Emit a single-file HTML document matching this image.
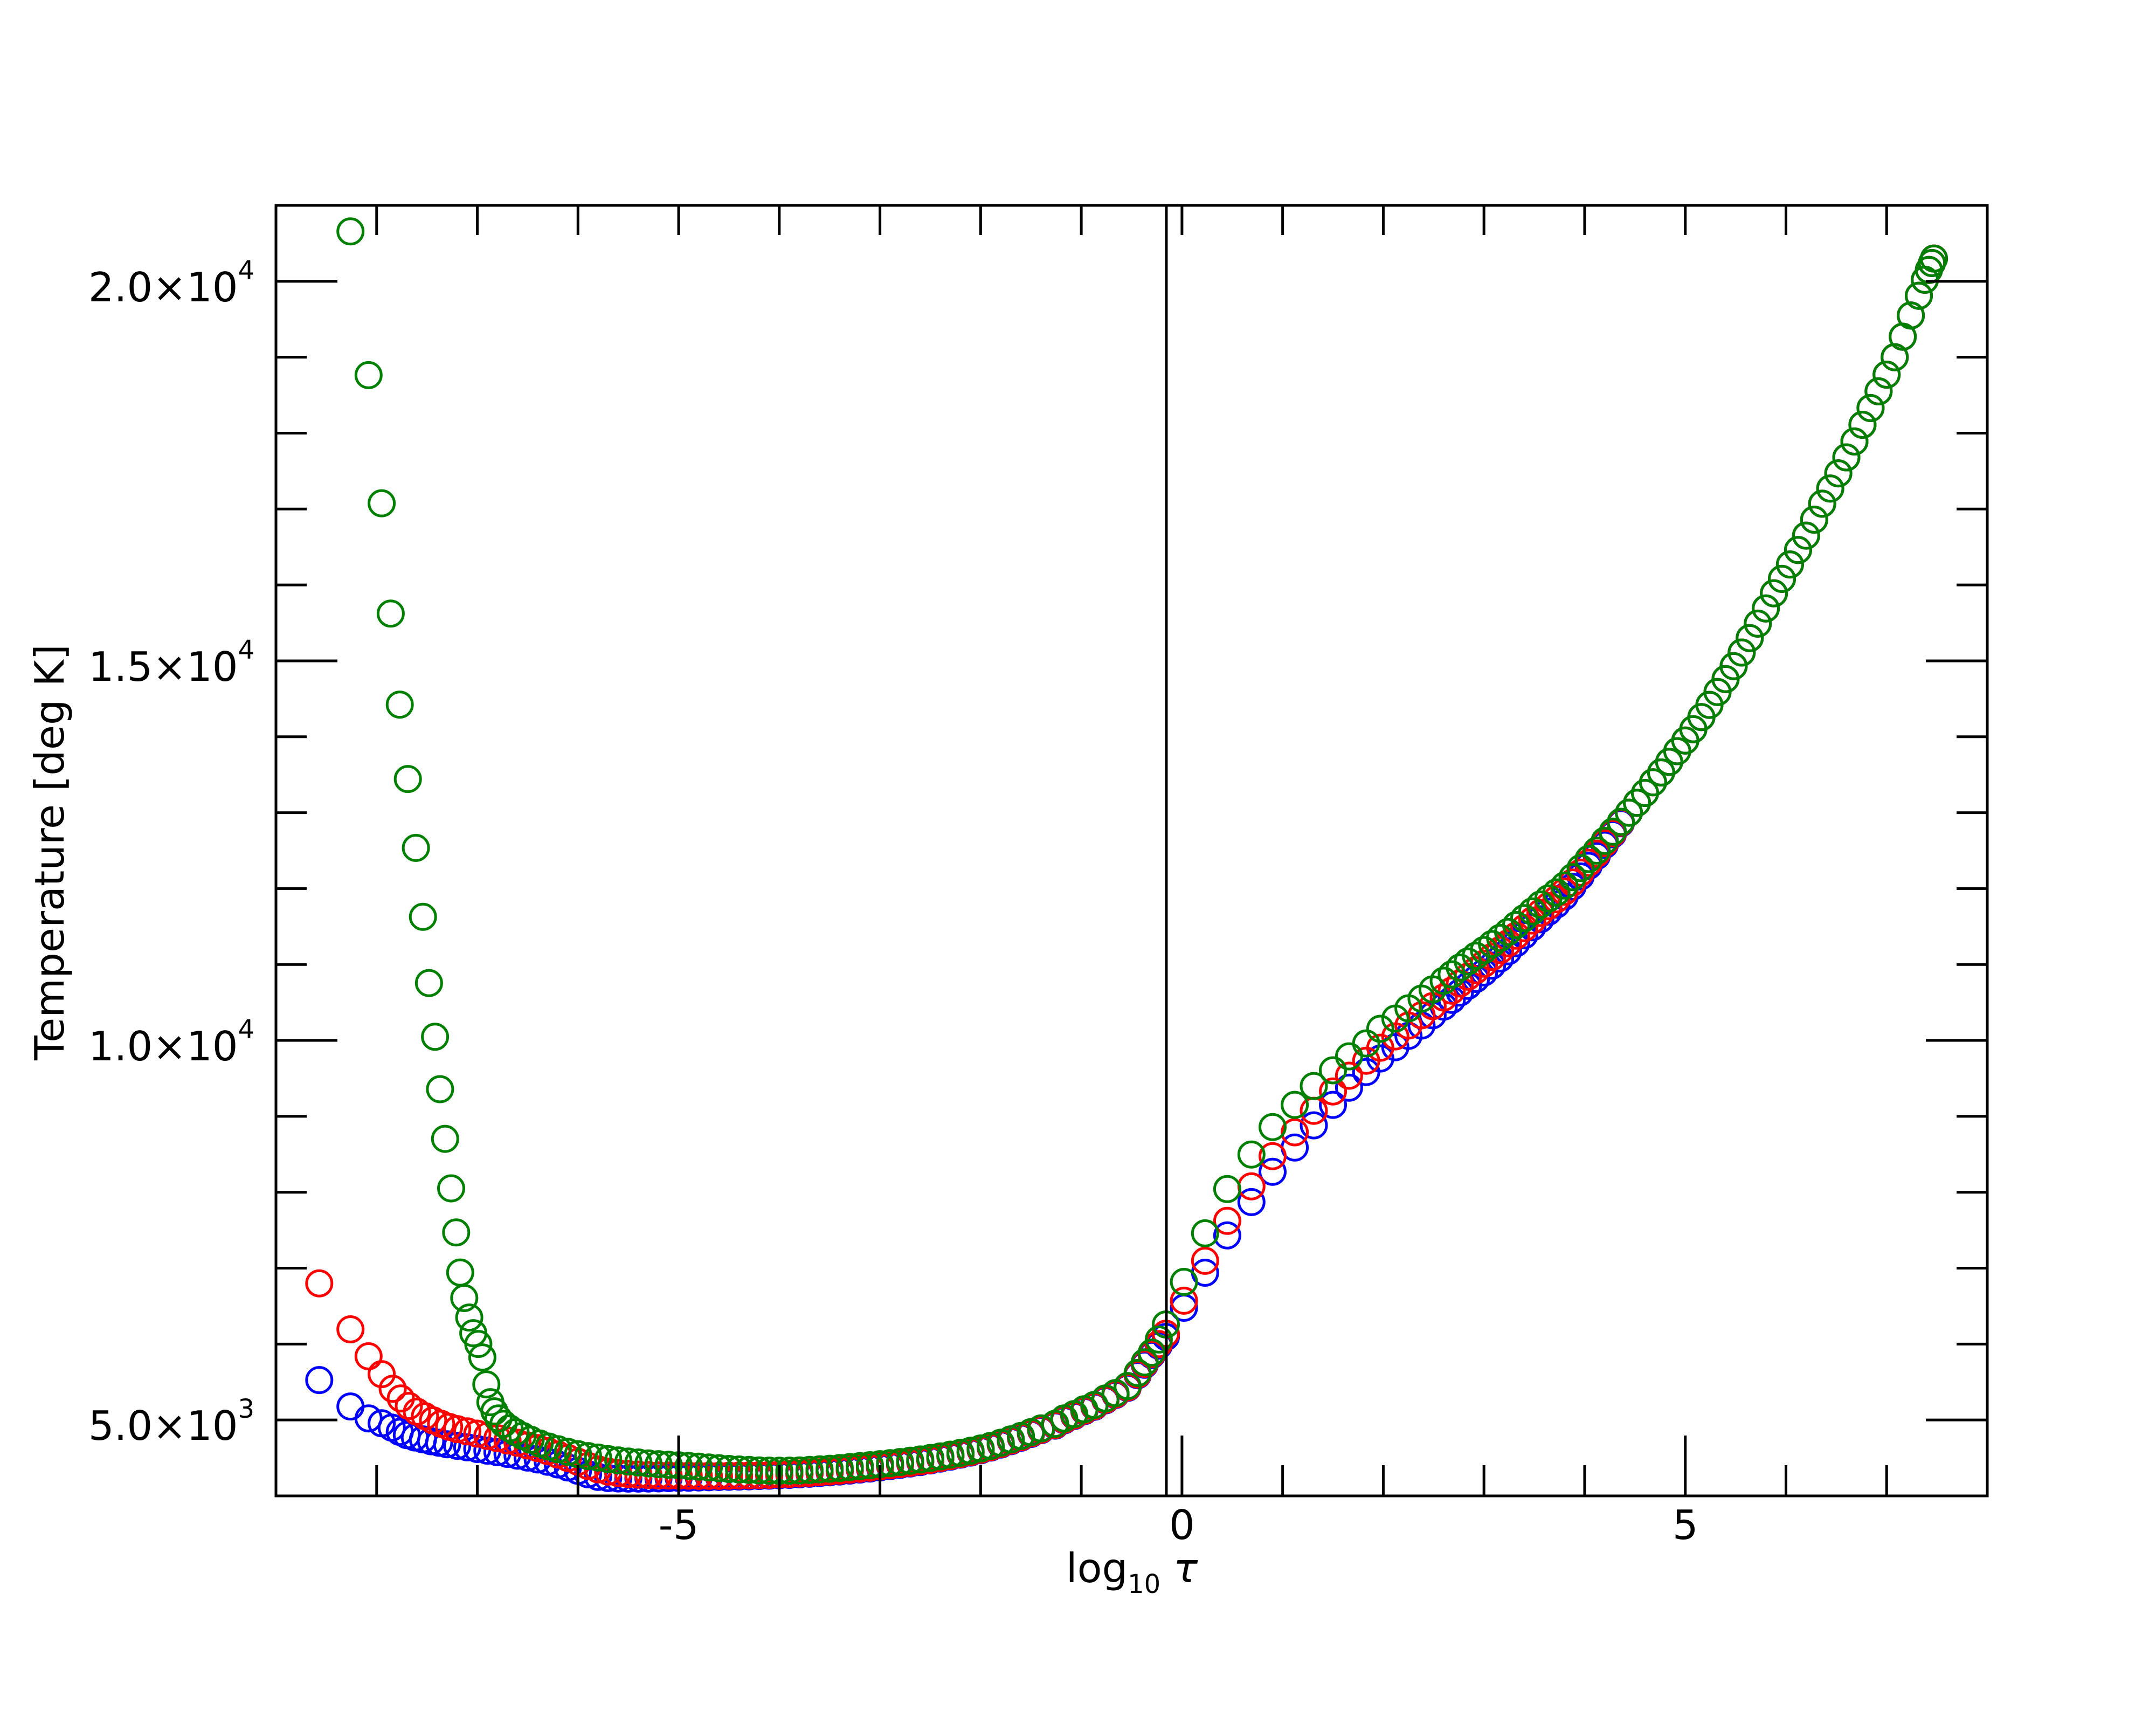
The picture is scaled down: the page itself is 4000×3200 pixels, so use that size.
<!DOCTYPE html>
<html>
<head>
<meta charset="utf-8">
<style>
html,body{margin:0;padding:0;background:#fff;}
svg{display:block;}
text{font-family:"DejaVu Sans","Liberation Sans",sans-serif;fill:#000;}
</style>
</head>
<body>
<svg id="chart" width="4000" height="3200" viewBox="0 0 4000 3200" xmlns="http://www.w3.org/2000/svg">
  <rect x="0" y="0" width="4000" height="3200" fill="#fff"/>
  <g id="marks"></g>
  <g id="axes"></g>
  <text transform="translate(118,1581) rotate(-90)" text-anchor="middle" font-size="75">Temperature [deg K]</text>
  <text x="2100" y="2935" text-anchor="middle" font-size="75">log<tspan font-size="48" dy="20">10</tspan><tspan dy="-20"> </tspan><tspan font-style="italic">τ</tspan></text>
</svg>
<script>
// ---- axis domain ----
const XMIN = -9, XMAX = 8, YMIN = 4000, YMAX = 21000;
const xTickValues = [-8,-7,-6,-5,-4,-3,-2,-1,0,1,2,3,4,5,6,7];
const xMajorTicks = [-5,0,5];
const xTickLabels = ["-5","0","5"];
const yTickValues = [5000,6000,7000,8000,9000,10000,11000,12000,13000,14000,15000,16000,17000,18000,19000,20000];
const yMajorTicks = [5000,10000,15000,20000];
const yTickMantissa = ["5.0","1.0","1.5","2.0"];
const yTickExponent = ["3","4","4","4"];
const refLineTau = [-0.155];

// ---- blue series ----
const tauBlue = [-8.57,-8.26,-8.08,-7.95,-7.85,-7.77,-7.70,-7.62,-7.54,-7.46,-7.38,-7.3,
-7.2,-7.1,-7.0,-6.9,-6.8,-6.7,-6.6,-6.5,-6.4,-6.3,-6.2,-6.1,-6.0,-5.9,-5.8,-5.7,-5.6,-5.5,
-5.4,-5.3,-5.2,-5.1,-5.0,-4.9,-4.8,-4.7,-4.6,-4.5,-4.4,-4.3,-4.2,-4.1,-4.0,-3.9,-3.8,-3.7,-3.6,-3.5,
-3.4,-3.3,-3.2,-3.1,-3.0,-2.9,-2.8,-2.7,-2.6,-2.5,-2.4,-2.3,-2.2,-2.1,-2.0,-1.9,-1.8,-1.7,-1.6,-1.5,-1.4,
-1.26,-1.17,-1.07,-0.97,-0.87,-0.76,-0.66,-0.54,-0.44,-0.37,-0.30,-0.23,-0.16,
0.02,0.23,0.45,0.69,0.90,1.12,1.31,1.50,1.66,1.83,1.97,2.12,2.25,2.38,2.49,2.60,
2.68,2.76,2.84,2.92,3.00,3.08,3.16,3.24,3.32,3.40,3.48,3.56,3.64,3.72,3.80,3.88,3.96,4.04,4.12,4.20,4.28,4.36,
4.44,4.52,4.60,4.68,4.76,4.84,4.92,5.00,5.08,5.16,5.24,5.32,5.40,5.48,5.56,5.64,5.72,5.80,5.88,5.96,
6.04,6.12,6.20,6.28,6.36,6.44,6.52,6.60,6.68,6.76,6.84,6.92,7.00,7.08,7.16,7.24,7.32,7.38,7.42,7.45,7.47];
const tempBlue = [5526,5178,5021,4957,4900,4843,4800,4770,4745,4720,4700,4680,
4660,4640,4618,4596,4575,4553,4530,4505,4480,4450,4415,4375,4330,4285,4250,4235,4230,4228,
4228,4229,4231,4234,4237,4240,4243,4246,4249,4252,4255,4258,4262,4266,4271,4277,4284,4292,4301,4311,
4322,4334,4347,4361,4376,4392,4409,4427,4446,4467,4492,4517,4543,4571,4601,4636,4676,4721,4766,4816,4866,
4926,4996,5053,5117,5174,5259,5330,5423,5590,5728,5855,5980,6094,
6478,6940,7431,7871,8269,8589,8881,9151,9378,9584,9762,9911,10060,10196,10331,10445,
10535,10630,10720,10810,10895,10985,11080,11175,11280,11385,11490,11595,11695,11790,11895,12025,12160,12300,12430,12575,12715,12860,
13000,13130,13260,13400,13530,13670,13810,13950,14100,14260,14420,14590,14760,14930,15110,15300,15490,15690,15890,16080,
16270,16460,16650,16860,17070,17270,17470,17680,17890,18110,18330,18550,18770,19000,19270,19550,19810,20020,20150,20240,20300];

// ---- red series ----
const tauRed = [-8.57,-8.26,-8.08,-7.95,-7.84,-7.76,-7.68,-7.60,-7.52,-7.44,-7.36,-7.28,
-7.2,-7.1,-7.0,-6.9,-6.8,-6.7,-6.6,-6.5,-6.4,-6.3,-6.2,-6.1,-6.0,-5.9,-5.8,-5.7,-5.6,-5.5,
-5.4,-5.3,-5.2,-5.1,-5.0,-4.9,-4.8,-4.7,-4.6,-4.5,-4.4,-4.3,-4.2,-4.1,-4.0,-3.9,-3.8,-3.7,-3.6,-3.5,
-3.4,-3.3,-3.2,-3.1,-3.0,-2.9,-2.8,-2.7,-2.6,-2.5,-2.4,-2.3,-2.2,-2.1,-2.0,-1.9,-1.8,-1.7,-1.6,-1.5,-1.4,
-1.26,-1.17,-1.07,-0.97,-0.87,-0.76,-0.66,-0.54,-0.44,-0.37,-0.30,-0.23,-0.16,
0.02,0.23,0.45,0.69,0.90,1.12,1.31,1.50,1.66,1.83,1.97,2.12,2.25,2.38,2.49,2.60,
2.68,2.76,2.84,2.92,3.00,3.08,3.16,3.24,3.32,3.40,3.48,3.56,3.64,3.72,3.80,3.88,3.96,4.04,4.12,4.20,4.28,4.36,
4.44,4.52,4.60,4.68,4.76,4.84,4.92,5.00,5.08,5.16,5.24,5.32,5.40,5.48,5.56,5.64,5.72,5.80,5.88,5.96,
6.04,6.12,6.20,6.28,6.36,6.44,6.52,6.60,6.68,6.76,6.84,6.92,7.00,7.08,7.16,7.24,7.32,7.38,7.42,7.45,7.47];
const tempRed = [6800,6194,5839,5604,5412,5284,5185,5110,5050,4995,4950,4910,
4880,4850,4820,4790,4760,4730,4700,4665,4630,4590,4545,4500,4450,4395,4350,4320,4300,4288,
4280,4274,4270,4268,4267,4266,4265,4265,4265,4266,4268,4270,4273,4277,4282,4288,4295,4303,4312,4322,
4333,4345,4358,4372,4387,4402,4418,4435,4455,4475,4500,4525,4550,4578,4608,4643,4683,4728,4773,4823,4873,
4933,5003,5060,5124,5181,5266,5337,5430,5600,5740,5868,6000,6137,
6571,7097,7623,8078,8475,8790,9073,9328,9535,9733,9904,10053,10196,10331,10452,10565,
10655,10750,10840,10925,11010,11100,11190,11280,11380,11480,11580,11680,11770,11860,11960,12080,12210,12340,12460,12600,12730,12870,
13000,13130,13260,13400,13530,13670,13810,13950,14100,14260,14420,14590,14760,14930,15110,15300,15490,15690,15890,16080,
16270,16460,16650,16860,17070,17270,17470,17680,17890,18110,18330,18550,18770,19000,19270,19550,19810,20020,20150,20240,20300];

// ---- green series ----
const tauGreen = [-8.26,-8.08,-7.95,-7.86,-7.77,-7.69,-7.61,-7.54,-7.48,-7.42,-7.37,-7.32,-7.26,-7.21,-7.17,
-7.13,-7.08,-7.04,-6.99,-6.95,-6.91,-6.87,-6.83,-6.79,-6.74,-6.68,-6.62,-6.55,-6.47,-6.38,-6.29,
-6.2,-6.1,-6.0,-5.9,-5.8,-5.7,-5.6,-5.5,-5.4,-5.3,-5.2,-5.1,-5.0,-4.9,-4.8,-4.7,-4.6,-4.5,
-4.4,-4.3,-4.2,-4.1,-4.0,-3.9,-3.8,-3.7,-3.6,-3.5,-3.4,-3.3,-3.2,-3.1,-3.0,-2.9,-2.8,-2.7,-2.6,-2.5,
-2.4,-2.3,-2.2,-2.1,-2.0,-1.9,-1.8,-1.7,-1.6,-1.5,-1.4,
-1.26,-1.17,-1.07,-0.97,-0.87,-0.76,-0.66,-0.54,-0.44,-0.37,-0.30,-0.23,-0.16,
0.02,0.23,0.45,0.69,0.90,1.12,1.31,1.50,1.66,1.83,1.97,2.12,2.25,2.38,2.49,2.60,
2.68,2.76,2.84,2.92,3.00,3.08,3.16,3.24,3.32,3.40,3.48,3.56,3.64,3.72,3.80,3.88,3.96,4.04,4.12,4.20,4.28,4.36,
4.44,4.52,4.60,4.68,4.76,4.84,4.92,5.00,5.08,5.16,5.24,5.32,5.40,5.48,5.56,5.64,5.72,5.80,5.88,5.96,
6.04,6.12,6.20,6.28,6.36,6.44,6.52,6.60,6.68,6.76,6.84,6.92,7.00,7.08,7.16,7.24,7.32,7.38,7.42,7.45,7.47];
const tempGreen = [20657,18764,17076,15623,14424,13444,12536,11628,10756,10048,9358,8704,8051,7470,6943,
6606,6350,6144,6002,5824,5469,5235,5114,5021,4950,4890,4840,4790,4740,4690,4650,
4615,4580,4550,4525,4505,4485,4468,4452,4440,4428,4418,4410,4403,4395,4385,4375,4365,4355,
4348,4342,4336,4333,4332,4333,4336,4342,4350,4358,4368,4380,4392,4405,4418,4432,4447,4463,4480,4500,
4520,4543,4568,4595,4625,4660,4700,4745,4790,4840,4890,
4950,5021,5078,5142,5199,5284,5355,5448,5620,5760,5888,6060,6258,
6819,7459,8042,8497,8859,9151,9400,9606,9790,9961,10153,10288,10423,10551,10672,10786,
10870,10960,11040,11115,11190,11270,11350,11430,11520,11610,11700,11790,11870,11950,12040,12150,12270,12390,12500,12630,12750,12880,
13000,13130,13260,13400,13530,13670,13810,13950,14100,14260,14420,14590,14760,14930,15110,15300,15490,15690,15890,16080,
16270,16460,16650,16860,17070,17270,17470,17680,17890,18110,18330,18550,18770,19000,19270,19550,19810,20020,20150,20240,20300];

// ---- layout ----
const PL = 512, PR = 3687, PT = 381, PB = 2775;
const NS = "http://www.w3.org/2000/svg";
function sx(v){ return PL + (v - XMIN) / (XMAX - XMIN) * (PR - PL); }
function sy(v){ return PB - (v - YMIN) / (YMAX - YMIN) * (PB - PT); }

const marks = document.getElementById('marks');
const axes = document.getElementById('axes');

function drawSeries(taus, temps, color, name){
  const g = document.createElementNS(NS, 'g');
  
  
  const n = Math.min(taus.length, temps.length);
  for (let i = 0; i < n; i++){
    const c = document.createElementNS(NS, 'circle');
    
    
    c.setAttribute('cx', sx(taus[i]).toFixed(1));
    c.setAttribute('cy', sy(temps[i]).toFixed(1));
    c.setAttribute('r', '23.5');
    c.setAttribute('fill', 'none');
    c.setAttribute('stroke', color);
    c.setAttribute('stroke-width', '5');
    g.appendChild(c);
  }
  marks.appendChild(g);
}
drawSeries(tauBlue, tempBlue, '#0000ff', 'blue-series');
drawSeries(tauRed, tempRed, '#ff0000', 'red-series');
drawSeries(tauGreen, tempGreen, '#008000', 'green-series');

function line(x1,y1,x2,y2,name){
  const l = document.createElementNS(NS, 'line');
  
  
  l.setAttribute('x1', x1); l.setAttribute('y1', y1);
  l.setAttribute('x2', x2); l.setAttribute('y2', y2);
  l.setAttribute('stroke', '#000');
  l.setAttribute('stroke-width', '5');
  axes.appendChild(l);
}

// reference vertical line
refLineTau.forEach(function(t){ line(sx(t), PT, sx(t), PB, 'tau-reference-line'); });

// x ticks
xTickValues.forEach(function(v){
  const x = sx(v);
  const major = xMajorTicks.indexOf(v) >= 0;
  line(x, PB, x, PB - (major ? 112 : 57), 'x-tick-bottom');
  line(x, PT, x, PT + 55, 'x-tick-top');
});
xMajorTicks.forEach(function(v, i){
  const t = document.createElementNS(NS, 'text');
  
  
  t.setAttribute('x', sx(v));
  t.setAttribute('y', 2855);
  t.setAttribute('text-anchor', 'middle');
  t.setAttribute('font-size', '75');
  t.textContent = xTickLabels[i];
  axes.appendChild(t);
});

// y ticks
yTickValues.forEach(function(v){
  const y = sy(v);
  const major = yMajorTicks.indexOf(v) >= 0;
  const len = major ? 114 : 57;
  line(PL, y, PL + len, y, 'y-tick-left');
  line(PR, y, PR - len, y, 'y-tick-right');
});
yMajorTicks.forEach(function(v, i){
  const t = document.createElementNS(NS, 'text');
  
  
  t.setAttribute('x', 472);
  t.setAttribute('y', sy(v) + 37);
  t.setAttribute('text-anchor', 'end');
  t.setAttribute('font-size', '75');
  const m = document.createElementNS(NS, 'tspan');
  m.textContent = yTickMantissa[i] + '×10';
  const e = document.createElementNS(NS, 'tspan');
  e.setAttribute('font-size', '48');
  e.setAttribute('dy', '-41');
  e.textContent = yTickExponent[i];
  t.appendChild(m); t.appendChild(e);
  axes.appendChild(t);
});

// frame
const frame = document.createElementNS(NS, 'rect');


frame.setAttribute('x', PL); frame.setAttribute('y', PT);
frame.setAttribute('width', PR - PL); frame.setAttribute('height', PB - PT);
frame.setAttribute('fill', 'none');
frame.setAttribute('stroke', '#000');
frame.setAttribute('stroke-width', '5');
axes.appendChild(frame);
</script>
</body>
</html>
